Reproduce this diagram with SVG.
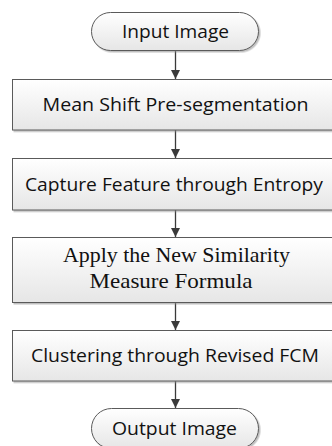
<svg xmlns="http://www.w3.org/2000/svg" width="332" height="446" viewBox="0 0 332 446">
  <defs>
    <linearGradient id="boxFill" x1="0" y1="0" x2="0" y2="1">
      <stop offset="0" stop-color="#ffffff"/>
      <stop offset="1" stop-color="#e6e6e6"/>
    </linearGradient>
    <filter id="shadow" x="-5%" y="-10%" width="115%" height="130%">
      <feDropShadow dx="1.5" dy="1.5" stdDeviation="0.6" flood-color="#8a8a8a" flood-opacity="0.55"/>
    </filter>
    <marker id="arrow" viewBox="0 0 10 10" refX="10" refY="5" markerWidth="9" markerHeight="9" markerUnits="userSpaceOnUse" orient="auto">
      <path d="M0,0 L10,5 L0,10 Z" fill="#3a3a3a"/>
    </marker>
    <style>
      .shape { fill: url(#boxFill); stroke: #5a5a5a; stroke-width: 1; filter: url(#shadow); }
      .sans { font-family: "Open Sans", "Liberation Sans", sans-serif; font-size: 18.5px; fill: #111111; text-anchor: middle; }
      .serif { font-family: "Liberation Serif", "Times New Roman", serif; font-size: 21.5px; fill: #111111; text-anchor: middle; }
      .conn { stroke: #3a3a3a; stroke-width: 1.3; fill: none; marker-end: url(#arrow); }
    </style>
  </defs>

  <rect width="332" height="446" fill="#ffffff"/>

  <g id="connectors">
    <line class="conn" x1="175.5" y1="51" x2="175.5" y2="79"/>
    <line class="conn" x1="175.5" y1="130" x2="175.5" y2="158"/>
    <line class="conn" x1="175.5" y1="210" x2="175.5" y2="237"/>
    <line class="conn" x1="175.5" y1="302.5" x2="175.5" y2="330"/>
    <line class="conn" x1="175.5" y1="381" x2="175.5" y2="408"/>
  </g>

  <g id="input-image">
    <rect class="shape" x="91.5" y="12.5" width="167" height="38" rx="19" ry="19"/>
    <text class="sans" x="175.5" y="37.5" textLength="107" lengthAdjust="spacingAndGlyphs">Input Image</text>
  </g>

  <g id="mean-shift">
    <rect class="shape" x="12.5" y="79.5" width="328" height="50.5"/>
    <text class="sans" x="175.5" y="111" textLength="266" lengthAdjust="spacingAndGlyphs">Mean Shift Pre-segmentation</text>
  </g>

  <g id="capture-feature">
    <rect class="shape" x="12.5" y="158.5" width="328" height="51.5"/>
    <text class="sans" x="174" y="190.5" textLength="298" lengthAdjust="spacingAndGlyphs">Capture Feature through Entropy</text>
  </g>

  <g id="similarity-measure">
    <rect class="shape" x="12.5" y="237.5" width="328" height="65"/>
    <text class="serif" x="176.5" y="262.3" textLength="227" lengthAdjust="spacingAndGlyphs">Apply the New Similarity</text>
    <text class="serif" x="171" y="288.3" textLength="163" lengthAdjust="spacingAndGlyphs">Measure Formula</text>
  </g>

  <g id="clustering">
    <rect class="shape" x="12.5" y="330.5" width="328" height="50.5"/>
    <text class="sans" x="175" y="362" textLength="288" lengthAdjust="spacingAndGlyphs">Clustering through Revised FCM</text>
  </g>

  <g id="output-image">
    <rect class="shape" x="91.5" y="408.5" width="167" height="40" rx="20" ry="20"/>
    <text class="sans" x="174.5" y="434.5" textLength="125" lengthAdjust="spacingAndGlyphs">Output Image</text>
  </g>
</svg>
